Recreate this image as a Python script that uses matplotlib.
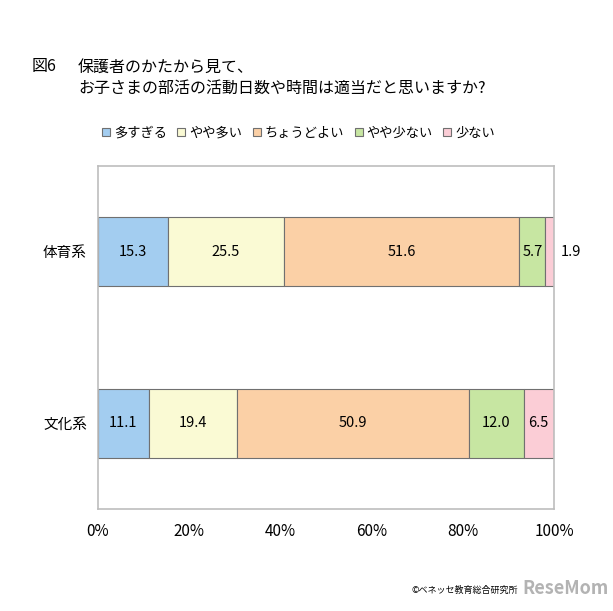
"""Stacked 100% bar chart: parents' view on club activity days/time."""

import matplotlib

matplotlib.use("Agg")
import matplotlib.pyplot as plt
import numpy as np
from matplotlib.patches import Patch

plt.rcParams["font.family"] = ["Noto Sans CJK JP", "DejaVu Sans"]

categories = ["体育系", "文化系"]
series_names = ["多すぎる", "やや多い", "ちょうどよい", "やや少ない", "少ない"]
values = [
    [15.3, 11.1],
    [25.5, 19.4],
    [51.6, 50.9],
    [5.7, 12.0],
    [1.9, 6.5],
]
colors = ["#a3cdf0", "#fafad4", "#fbd0a6", "#c7e6a2", "#fbcdd6"]
x_ticks = [0, 20, 40, 60, 80, 100]

fig = plt.figure(figsize=(6.13, 6.11), dpi=100)
ax = fig.add_axes([98 / 613, 1 - 509 / 611, 456 / 613, 343 / 611])

y = np.arange(len(categories))
left = np.zeros(len(categories))
for name, vals, color in zip(series_names, values, colors):
    vals = np.asarray(vals)
    ax.barh(y, vals, left=left, height=0.4, color=color,
            edgecolor="#707070", linewidth=0.8, label=name)
    for yi, (l, v) in enumerate(zip(left, vals)):
        if v < 3:
            ax.text(100 + 1.5, yi, f"{v:.1f}", ha="left", va="center", fontsize=10.5)
        else:
            ax.text(l + v / 2, yi, f"{v:.1f}", ha="center", va="center", fontsize=10.5)
    left += vals

ax.set_xlim(0, 100)
ax.set_ylim(1.5, -0.5)
ax.set_xticks(x_ticks, [f"{t}%" for t in x_ticks])
ax.set_yticks(y, categories)
ax.tick_params(length=0, labelsize=10.5, pad=8)
ax.tick_params(axis="x", labelsize=11, pad=10)
for spine in ax.spines.values():
    spine.set_color("#bdbdbd")
    spine.set_linewidth(1.2)

fig.text(32 / 613, 1 - 67 / 611, "図6", fontsize=11.5, va="center")
fig.text(78 / 613, 1 - 67 / 611, "保護者のかたから見て、", fontsize=11.5, va="center")
fig.text(78 / 613, 1 - 88 / 611, "お子さまの部活の活動日数や時間は適当だと思いますか?",
         fontsize=11.5, va="center")

handles = [Patch(facecolor=c, edgecolor="#707070", linewidth=0.8) for c in colors]
fig.legend(handles, series_names, loc="center left", bbox_to_anchor=(90 / 613, 1 - 133 / 611),
           ncol=5, frameon=False, fontsize=9.5, handlelength=0.6, handleheight=0.6,
           handletextpad=0.3, columnspacing=0.8)

fig.text(518 / 613, 1 - 590 / 611, "©ベネッセ教育総合研究所", fontsize=6.5,
         ha="right", va="center")
fig.text(522 / 613, 1 - 588 / 611, "ReseMom", fontsize=13, fontweight="bold",
         color="#a0a0a0", ha="left", va="center", alpha=0.8)

fig.savefig("out.png", dpi=100)
